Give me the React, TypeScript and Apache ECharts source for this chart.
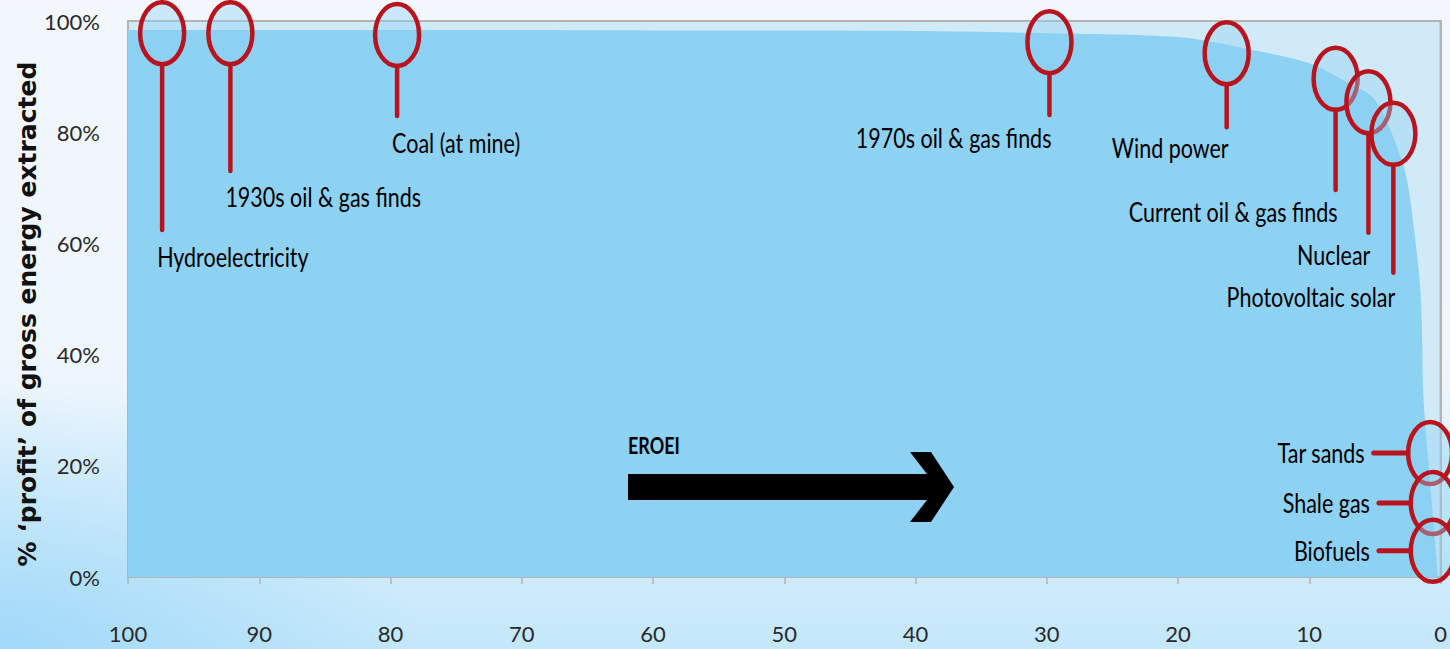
import React, { useEffect, useRef } from "react";
import * as echarts from "echarts";

// Area curve: EROEI (x) vs % profit of gross energy extracted (y)
const curveEroei = [100, 80, 60, 40, 30, 20, 15, 10, 7, 5, 2.8, 2.0, 1.5, 1.3, 0.8, 0.2];
const curveProfit = [98.4, 98.4, 98.3, 98.2, 97.8, 97.1, 95.1, 92.4, 88.8, 85.8, 73.7, 62, 50, 32, 17, 0];

// Energy sources annotated on the chart
const sources = [
  "Hydroelectricity",
  "1930s oil & gas finds",
  "Coal (at mine)",
  "1970s oil & gas finds",
  "Wind power",
  "Current oil & gas finds",
  "Nuclear",
  "Photovoltaic solar",
  "Tar sands",
  "Shale gas",
  "Biofuels",
];
const sourceEroei = [97.4, 92.2, 79.5, 29.8, 16.3, 8.0, 5.5, 3.6, 0.8, 0.6, 0.6];
const sourceProfit = [97.8, 97.8, 97.5, 96.2, 94.2, 89.6, 85.4, 79.7, 22.3, 13.3, 4.7];
// vertical stems end at a % value; horizontal stems start at an EROEI value
const stemEnd = [62.4, 73, 82.9, 83.1, 80.9, 69.6, 61.9, 54.7, 5.1, 4.7, 4.7];
const labelProfit = [57.6, 68.5, 78.2, 79, 77.2, 65.8, 57.9, 50.4, 22.3, 13.3, 4.7];
const stemKind = [0, 0, 0, 1, 1, 1, 1, 1, 2, 2, 2]; // 0: down/left label, 1: down/right label, 2: horizontal

const yTicks = [0, 20, 40, 60, 80, 100];
const xTicks = [100, 90, 80, 70, 60, 50, 40, 30, 20, 10, 0];

const FONT = "Lato, 'Open Sans', sans-serif";
const RED = "#b9141e";

export default function App() {
  const ref = useRef<HTMLDivElement>(null);
  useEffect(() => {
    if (!ref.current) return;
    const chart = echarts.init(ref.current, undefined, { renderer: "svg" });
    const RX = 22;
    const RY = 31;
    const annData = sources.map((s, i) => ({
      name: s,
      value: [sourceEroei[i], sourceProfit[i], stemEnd[i], labelProfit[i], stemKind[i]],
    }));
    chart.setOption({
      animation: false,
      backgroundColor: "transparent",
      grid: {
        left: 128,
        right: 5,
        top: 21,
        bottom: 72,
        show: true,
        backgroundColor: "#d0eaf8",
        borderColor: "#b4b4b4",
        borderWidth: 2,
      },
      xAxis: {
        type: "value",
        min: 0,
        max: 100,
        interval: 10,
        inverse: true,
        axisLine: { show: true, lineStyle: { color: "#b4b4b4", width: 2 } },
        axisTick: { show: true, length: 7, lineStyle: { color: "#b4b4b4", width: 1.5 } },
        splitLine: { show: false },
        axisLabel: {
          margin: 45,
          color: "#2a2a2a",
          fontSize: 22,
          fontFamily: FONT,
          showMaxLabel: true,
          showMinLabel: true,
          formatter: (v: number) => (xTicks.includes(v) ? String(v) : ""),
        },
      },
      yAxis: {
        type: "value",
        min: 0,
        max: 100,
        interval: 20,
        axisLine: { show: true, lineStyle: { color: "#b4b4b4", width: 2 } },
        axisTick: { show: false },
        splitLine: { show: false },
        axisLabel: {
          margin: 28,
          color: "#2a2a2a",
          fontSize: 22,
          fontFamily: FONT,
          formatter: (v: number) => (yTicks.includes(v) ? v + "%" : ""),
        },
      },
      graphic: [
        {
          type: "text",
          x: 27,
          y: 314,
          rotation: Math.PI / 2,
          style: {
            text: "% \u2018profit\u2019 of gross energy extracted",
            font: "bold 25px 'DejaVu Sans', Verdana, sans-serif",
            fill: "#111",
            align: "center",
            verticalAlign: "middle",
          },
          z: 10,
        },
        {
          type: "text",
          x: 628,
          y: 445,
          scaleY: 1.25,
          style: {
            text: "EROEI",
            font: "bold 18px " + FONT,
            fill: "#000",
            align: "left",
            verticalAlign: "middle",
          },
          z: 10,
        },
        {
          type: "polygon",
          shape: {
            points: [
              [628, 474],
              [927, 474],
              [910, 452],
              [931, 452],
              [954, 487],
              [931, 522],
              [910, 522],
              [927, 500],
              [628, 500],
            ],
          },
          style: { fill: "#000" },
          z: 10,
        },
      ],
      series: [
        {
          type: "line",
          data: curveEroei.map((e, i) => [e, curveProfit[i]]),
          smooth: 0.3,
          symbol: "none",
          lineStyle: { width: 0 },
          areaStyle: { color: "#8dd1f3", opacity: 1 },
          z: 2,
        },
        {
          type: "custom",
          clip: false,
          z: 5,
          data: annData,
          renderItem: (params: any, api: any) => {
            const e = api.value(0);
            const p = api.value(1);
            const se = api.value(2);
            const lp = api.value(3);
            const kind = api.value(4);
            const name = sources[params.dataIndex];
            const c = api.coord([e, p]);
            const children: any[] = [];
            let tx = 0;
            let ty = 0;
            let align = "left";
            if (kind === 2) {
              const sx = api.coord([se, p])[0];
              children.push({
                type: "line",
                shape: { x1: sx, y1: c[1], x2: c[0] - RX, y2: c[1] },
                style: { stroke: RED, lineWidth: 5, lineCap: "round" },
              });
              tx = sx - 9;
              ty = c[1];
              align = "right";
            } else {
              const ey = api.coord([e, se])[1];
              children.push({
                type: "line",
                shape: { x1: c[0], y1: c[1] + RY, x2: c[0], y2: ey },
                style: { stroke: RED, lineWidth: 4.5, lineCap: "round" },
              });
              ty = api.coord([e, lp])[1];
              if (kind === 0) {
                tx = c[0] - 5;
                align = "left";
              } else {
                tx = c[0] + 2;
                align = "right";
              }
            }
            children.push({
              type: "ellipse",
              shape: { cx: c[0], cy: c[1], rx: RX, ry: RY },
              style: { fill: "rgba(141,209,243,0.4)", stroke: RED, lineWidth: 4.5 },
            });
            children.push({
              type: "text",
              x: tx,
              y: ty,
              scaleY: 1.22,
              style: {
                text: name,
                x: 0,
                y: 0,
                align: align,
                verticalAlign: "middle",
                fontSize: 21.5,
                fontFamily: FONT,
                fill: "#000",
              },
            });
            return { type: "group", children };
          },
        },
      ],
    });
    return () => chart.dispose();
  }, []);
  return (
    <div
      style={{
        position: "fixed",
        left: 0,
        top: 0,
        width: 1450,
        height: 649,
        background:
          "radial-gradient(ellipse 420px 260px at 0% 100%, rgba(150,212,248,0.75), rgba(150,212,248,0) 100%), linear-gradient(180deg, #f3f7fd 0%, #eff6fd 55%, #d8effc 82%, #c3e7fb 100%)",
      }}
    >
      <div ref={ref} style={{ width: 1450, height: 649 }} />
    </div>
  );
}
